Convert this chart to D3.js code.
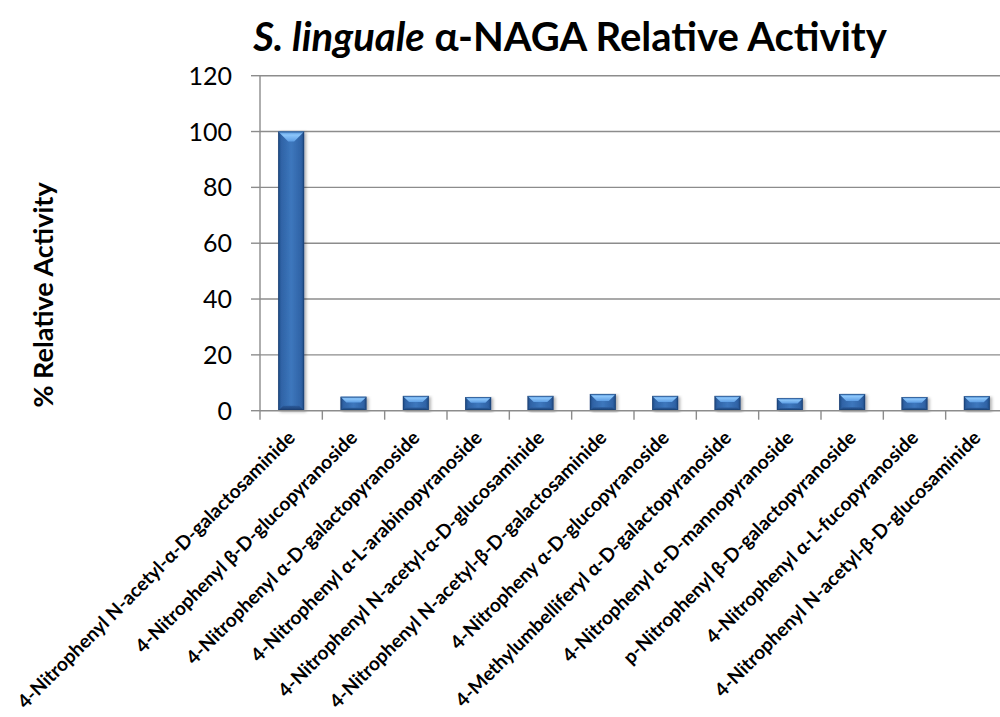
<!DOCTYPE html>
<html>
<head>
<meta charset="utf-8">
<script src="https://cdn.jsdelivr.net/npm/d3@7"></script>
<style>
  html, body { margin: 0; padding: 0; background: #ffffff; }
  svg { display: block; font-family: Lato, "Open Sans", sans-serif; }
</style>
</head>
<body>
<svg id="chart" width="1000" height="717"></svg>
<script>
// Substrates tested
const categories = [
  "4-Nitrophenyl N-acetyl-α-D-galactosaminide",
  "4-Nitrophenyl β-D-glucopyranoside",
  "4-Nitrophenyl α-D-galactopyranoside",
  "4-Nitrophenyl α-L-arabinopyranoside",
  "4-Nitrophenyl N-acetyl-α-D-glucosaminide",
  "4-Nitrophenyl N-acetyl-β-D-galactosaminide",
  "4-Nitropheny α-D-glucopyranoside",
  "4-Methylumbelliferyl α-D-galactopyranoside",
  "4-Nitrophenyl α-D-mannopyranoside",
  "p-Nitrophenyl β-D-galactopyranoside",
  "4-Nitrophenyl α-L-fucopyranoside",
  "4-Nitrophenyl N-acetyl-β-D-glucosaminide"
];

// % relative activity for each substrate
const activity = [100, 5.0, 5.3, 4.9, 5.3, 6.0, 5.3, 5.3, 4.5, 6.0, 4.9, 5.2];

// Value axis ticks
const yTicks = [0, 20, 40, 60, 80, 100, 120];

const svg = d3.select("#chart");

const plot = { left: 260, right: 1008, top: 75.7, bottom: 410.7 };

const x = d3.scaleBand()
  .domain(categories)
  .range([plot.left, plot.right])
  .paddingInner(0.583)
  .paddingOuter(0.2915);

const y = d3.scaleLinear()
  .domain([0, 120])
  .range([plot.bottom, plot.top]);

const step = x.step();
const gridColor = "#8c8c8c";

// Gradients for the bevelled bars
const defs = svg.append("defs");
const bodyGrad = defs.append("linearGradient").attr("id", "barBody")
  .attr("x1", "0").attr("x2", "1").attr("y1", "0").attr("y2", "0");
[[0, "#1f4a84"], [0.12, "#2f63a6"], [0.5, "#3d77bd"], [0.88, "#2f63a6"], [1, "#1f4a84"]]
  .forEach(([o, c]) => bodyGrad.append("stop").attr("offset", o).attr("stop-color", c));

const topGrad = defs.append("linearGradient").attr("id", "barTop")
  .attr("x1", "0").attr("x2", "0").attr("y1", "0").attr("y2", "1");
[[0, "#4f8fd8"], [0.35, "#8cc6fa"], [1, "#5d9de4"]]
  .forEach(([o, c]) => topGrad.append("stop").attr("offset", o).attr("stop-color", c));

const bottomGrad = defs.append("linearGradient").attr("id", "barBottom")
  .attr("x1", "0").attr("x2", "0").attr("y1", "0").attr("y2", "1");
[[0, "#2c5c9c"], [1, "#183c6c"]]
  .forEach(([o, c]) => bottomGrad.append("stop").attr("offset", o).attr("stop-color", c));

const shadow = defs.append("filter").attr("id", "barShadow")
  .attr("x", "-20%").attr("y", "-5%").attr("width", "150%").attr("height", "115%");
shadow.append("feDropShadow")
  .attr("dx", 2).attr("dy", 1).attr("stdDeviation", 1.6)
  .attr("flood-color", "#000").attr("flood-opacity", 0.3);

// Horizontal gridlines
svg.append("g")
  .selectAll("line")
  .data(yTicks.filter(d => d > 0))
  .join("line")
  .attr("x1", plot.left).attr("x2", plot.right)
  .attr("y1", d => y(d)).attr("y2", d => y(d))
  .attr("stroke", gridColor).attr("stroke-width", 1.4);

// Bars
const w = x.bandwidth();
const bars = svg.append("g")
  .selectAll("g")
  .data(categories.map((c, i) => ({ c, v: activity[i] })))
  .join("g")
  .attr("filter", "url(#barShadow)");

bars.each(function (d) {
  const g = d3.select(this);
  const x0 = x(d.c), y0 = y(d.v), h = y(0) - y(d.v);
  const b = Math.min(w / 2 - 2, h * 0.42, 10);
  g.append("rect")
    .attr("x", x0).attr("y", y0).attr("width", w).attr("height", h)
    .attr("fill", "url(#barBody)");
  g.append("polygon")
    .attr("points", [[x0, y0 + h], [x0 + w, y0 + h], [x0 + w - b * 0.5, y0 + h - b * 0.5], [x0 + b * 0.5, y0 + h - b * 0.5]].join(" "))
    .attr("fill", "url(#barBottom)");
  g.append("polygon")
    .attr("points", [[x0, y0], [x0 + w, y0], [x0 + w - b, y0 + b], [x0 + b, y0 + b]].join(" "))
    .attr("fill", "url(#barTop)");
  g.append("rect")
    .attr("x", x0 + 0.5).attr("y", y0 + 0.5).attr("width", w - 1).attr("height", h - 1)
    .attr("fill", "none").attr("stroke", "#1a3d6b").attr("stroke-opacity", 0.55);
});

// Value axis
const yAxis = svg.append("g");
yAxis.append("line")
  .attr("x1", plot.left).attr("x2", plot.left)
  .attr("y1", plot.top).attr("y2", plot.bottom)
  .attr("stroke", gridColor).attr("stroke-width", 1.4);
yAxis.selectAll("line.tick")
  .data(yTicks)
  .join("line").attr("class", "tick")
  .attr("x1", plot.left - 9).attr("x2", plot.left)
  .attr("y1", d => y(d)).attr("y2", d => y(d))
  .attr("stroke", gridColor).attr("stroke-width", 1.4);
yAxis.selectAll("text")
  .data(yTicks)
  .join("text")
  .attr("x", 232).attr("y", d => y(d))
  .attr("dy", "0.36em")
  .attr("text-anchor", "end")
  .attr("font-size", 25)
  .attr("fill", "#000")
  .text(d => d);

// Category axis
const xAxis = svg.append("g");
xAxis.append("line")
  .attr("x1", plot.left).attr("x2", plot.right)
  .attr("y1", plot.bottom).attr("y2", plot.bottom)
  .attr("stroke", gridColor).attr("stroke-width", 1.4);
xAxis.selectAll("line.tick")
  .data(d3.range(categories.length + 1))
  .join("line").attr("class", "tick")
  .attr("x1", i => plot.left + i * step).attr("x2", i => plot.left + i * step)
  .attr("y1", plot.bottom).attr("y2", plot.bottom + 9)
  .attr("stroke", gridColor).attr("stroke-width", 1.4);
xAxis.selectAll("text")
  .data(categories)
  .join("text")
  .attr("transform", d => `translate(${x(d) + w / 2 + 5},439) rotate(-45)`)
  .attr("text-anchor", "end")
  .attr("font-size", 19.2)
  .attr("font-weight", "bold")
  .attr("fill", "#000")
  .text(d => d);

// Axis title
svg.append("text")
  .attr("transform", "translate(53,295) rotate(-90)")
  .attr("text-anchor", "middle")
  .attr("font-size", 27)
  .attr("font-weight", "bold")
  .attr("fill", "#000")
  .text("% Relative Activity");

// Chart title
const title = svg.append("text")
  .attr("x", 570).attr("y", 51)
  .attr("text-anchor", "middle")
  .attr("font-size", 40)
  .attr("font-weight", "bold")
  .attr("fill", "#000");
title.append("tspan").attr("font-style", "italic").text("S. linguale");
title.append("tspan").text(" α-NAGA Relative Activity");
</script>
</body>
</html>
